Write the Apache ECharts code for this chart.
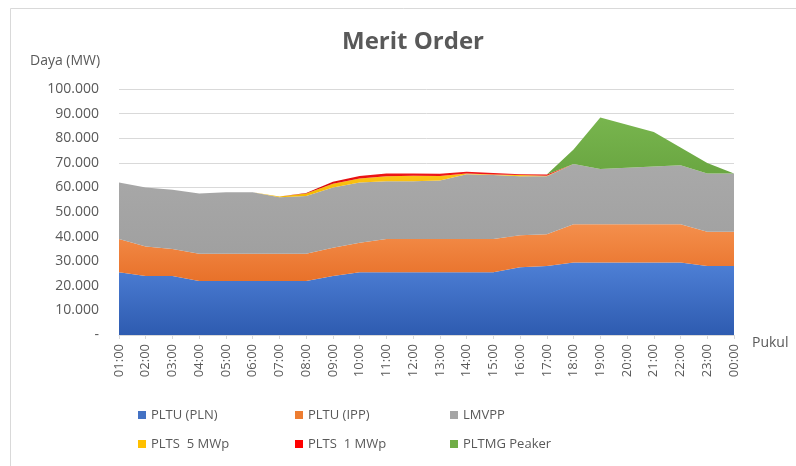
<!DOCTYPE html>
<html>
<head>
<meta charset="utf-8">
<script src="https://cdn.jsdelivr.net/npm/echarts@6/dist/echarts.min.js"></script>
<style>
html,body{margin:0;padding:0;background:#fff;}
#chart{width:796px;height:466px;}
</style>
</head>
<body>
<div id="chart"></div>
<script>
var hours = ['01:00','02:00','03:00','04:00','05:00','06:00','07:00','08:00','09:00','10:00','11:00','12:00','13:00','14:00','15:00','16:00','17:00','18:00','19:00','20:00','21:00','22:00','23:00','00:00'];
var pltuPln  = [25.5,24,24,22,22,22,22,22,24,25.5,25.5,25.5,25.5,25.5,25.5,27.5,28,29.5,29.5,29.5,29.5,29.5,28,28];
var pltuIpp  = [13.5,12,11,11,11,11,11,11,11.5,12,13.5,13.5,13.5,13.5,13.5,13,13,15.5,15.5,15.5,15.5,15.5,14,14];
var lmvpp    = [23,24,24,24.5,25,25,23,23.5,24.5,24.5,23.5,23.5,23.8,26.3,26,24,23.5,24.5,22.5,23,23.5,24,23.7,23.7];
var plts5    = [0,0,0,0,0,0,0.3,1,1.5,1.6,2,2.2,1.8,0.3,0.2,0.5,0.2,0,0,0,0,0,0,0];
var plts1    = [0,0,0,0,0,0,0,0.2,0.8,1,1.1,0.9,0.9,0.8,0.7,0.3,0.5,0,0,0,0,0,0,0];
var pltmg    = [0,0,0,0,0,0,0,0,0,0,0,0,0,0,0,0,0,5.9,20.9,17.5,14,7.2,4.2,0];
var yTicks   = [0,10,20,30,40,50,60,70,80,90,100];

var seriesNames = ['PLTU (PLN)','PLTU (IPP)','LMVPP','PLTS  5 MWp','PLTS  1 MWp','PLTMG Peaker'];
var seriesData = [pltuPln, pltuIpp, lmvpp, plts5, plts1, pltmg];
var baseColors = ['#4472C4','#ED7D31','#A5A5A5','#FFC000','#FF0000','#70AD47'];
var gradTop = ['#4e80d6','#f48f4c','#a9a9a9','#ffc820','#ff2020','#78b54e'];
var gradBot = ['#2e5bb0','#e8712a','#a0a0a0','#f5b800','#c80000','#64a03c'];

function fmt(v){
  if (v === 0) return '-';
  return (v).toFixed(0) + '.000';
}

var chart = echarts.init(document.getElementById('chart'), null, {renderer:'canvas'});
var font = "'Open Sans', sans-serif";
var series = seriesNames.map(function(n,i){
  return {
    name: n, type: 'line', stack: 'total', data: seriesData[i],
    showSymbol: false, symbol: 'none',
    lineStyle: {width: 0},
    color: baseColors[i],
    areaStyle: {
      opacity: 1,
      color: new echarts.graphic.LinearGradient(0,0,0,1,[{offset:0,color:gradTop[i]},{offset:1,color:gradBot[i]}])
    },
    emphasis: {disabled: true}
  };
});

function legendCol(names, left){
  return {
    data: names, orient: 'vertical', left: left, top: 402,
    icon: 'rect', itemWidth: 8, itemHeight: 8, itemGap: 13,
    textStyle: {fontFamily: font, fontSize: 13, color: '#595959', lineHeight: 16},
    selectedMode: false
  };
}

chart.setOption({
  animation: false,
  backgroundColor: '#fff',
  title: {
    text: 'Merit Order', left: 408, top: 25, textAlign: 'center',
    textStyle: {fontFamily: font, fontSize: 24, fontWeight: 'bold', color: '#595959'}
  },
  grid: {left: 119, right: 62, top: 89, bottom: 131, containLabel: false},
  legend: [
    legendCol([seriesNames[0], seriesNames[3]], 133),
    legendCol([seriesNames[1], seriesNames[4]], 290),
    legendCol([seriesNames[2], seriesNames[5]], 445)
  ],
  xAxis: {
    type: 'category', data: hours, boundaryGap: false,
    axisLine: {lineStyle: {color: '#d9d9d9'}},
    axisTick: {show: true, length: 4, lineStyle: {color: '#d9d9d9'}},
    axisLabel: {rotate: 90, interval: 0, margin: 9, fontFamily: font, fontSize: 13, color: '#595959'}
  },
  yAxis: {
    type: 'value', min: yTicks[0], max: yTicks[yTicks.length-1], interval: 10,
    axisLine: {show: false}, axisTick: {show: false},
    splitLine: {lineStyle: {color: '#d9d9d9'}},
    axisLabel: {formatter: fmt, margin: 20, fontFamily: font, fontSize: 14, color: '#595959'}
  },
  graphic: [
    {type: 'rect', shape: {x: 10.5, y: 8.5, width: 900, height: 600}, style: {fill: null, stroke: '#d9d9d9', lineWidth: 1}, silent: true},
    {type: 'text', left: 30, top: 54, style: {text: 'Daya (MW)', font: "14px 'Open Sans', sans-serif", fill: '#595959'}},
    {type: 'text', left: 752, top: 336, style: {text: 'Pukul', font: "14px 'Open Sans', sans-serif", fill: '#595959'}}
  ],
  series: series
});
</script>
</body>
</html>
